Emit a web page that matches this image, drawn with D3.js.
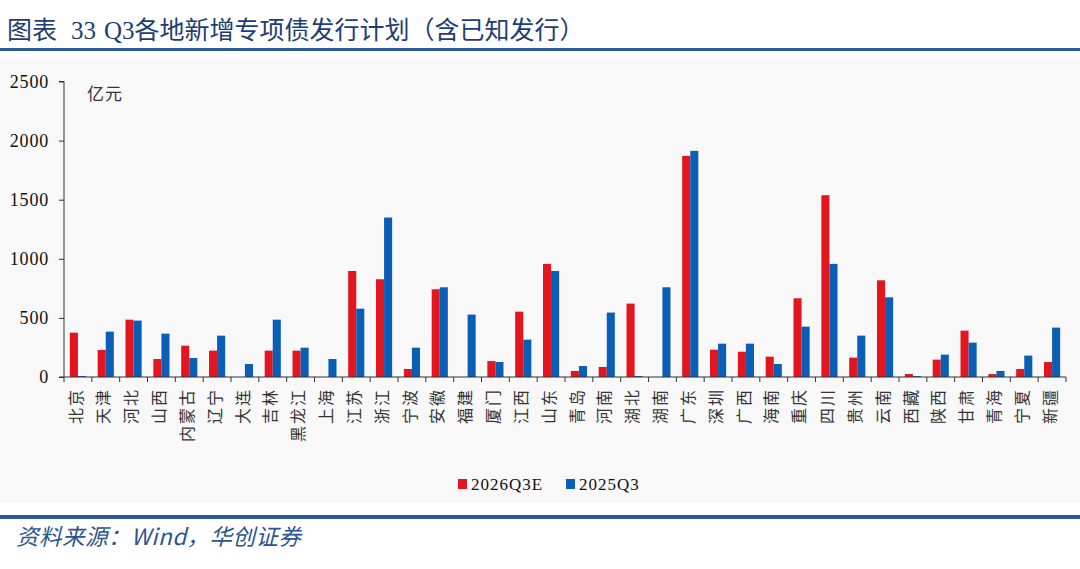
<!DOCTYPE html>
<html>
<head>
<meta charset="utf-8">
<style>
  body { margin: 0; background: #fff; }
  svg { display: block; }
</style>
</head>
<body>
<div id="chart"></div>
<script src="https://d3js.org/d3.v7.min.js"></script>
<script>
// 各地区
const regions = ['北京', '天津', '河北', '山西', '内蒙古', '辽宁', '大连', '吉林', '黑龙江', '上海',
  '江苏', '浙江', '宁波', '安徽', '福建', '厦门', '江西', '山东', '青岛', '河南', '湖北', '湖南',
  '广东', '深圳', '广西', '海南', '重庆', '四川', '贵州', '云南', '西藏', '陕西', '甘肃', '青海',
  '宁夏', '新疆'];

// 亿元
const q3e2026 = [375, 229, 485, 152, 265, 223, 0, 223, 223, 0,
  897, 827, 68, 742, 0, 135, 553, 957, 51, 85, 621, 0,
  1871, 231, 214, 172, 666, 1538, 164, 818, 25, 147, 392, 25,
  68, 127];
const q32025 = [8, 384, 477, 367, 161, 350, 110, 485, 248, 152,
  578, 1349, 248, 759, 528, 127, 316, 897, 93, 545, 8, 759,
  1913, 282, 282, 110, 426, 957, 350, 674, 8, 189, 291, 51,
  181, 418];

const seriesNames = ['2026Q3E', '2025Q3'];
const seriesColors = ['#e3161f', '#0a5eb6'];
const yTicks = [0, 500, 1000, 1500, 2000, 2500];

const W = 1080, H = 569;
const svg = d3.select('#chart').append('svg')
  .attr('width', W).attr('height', H);

// title block
const title = svg.append('text')
  .attr('x', 7).attr('y', 39)
  .attr('font-family', '"Liberation Serif", "Noto Sans CJK SC", serif')
  .attr('font-size', 25)
  .attr('fill', '#1d3d74');
title.append('tspan').text('图表');
title.append('tspan').attr('dx', 14).text('33');
title.append('tspan').attr('dx', 8).text('Q3各地新增专项债发行计划（含已知发行）');
svg.append('rect').attr('x', 0).attr('y', 48).attr('width', W).attr('height', 3).attr('fill', '#2c5a96');

// chart background
svg.append('rect').attr('x', 0).attr('y', 60).attr('width', W).attr('height', 443).attr('fill', '#f8f8f8');

const plotL = 64, plotR = 1066, plotT = 81.5, plotB = 377;

const x0 = d3.scaleBand().domain(regions).range([plotL, plotR]);
const bw = x0.bandwidth();
const x1 = d3.scaleBand().domain(seriesNames).range([bw * 0.21, bw * 0.79]);
const y = d3.scaleLinear().domain([0, 2500]).range([plotB, plotT]);

// bars
const rows = regions.map((r, i) => ({ region: r, vals: [q3e2026[i], q32025[i]] }));
const g = svg.append('g');
const groups = g.selectAll('g.grp').data(rows).enter().append('g')
  .attr('transform', d => `translate(${x0(d.region)},0)`);
groups.selectAll('rect').data(d => d.vals.map((v, k) => ({ v, k }))).enter().append('rect')
  .attr('x', d => x1(seriesNames[d.k]))
  .attr('width', x1.bandwidth())
  .attr('y', d => y(d.v))
  .attr('height', d => plotB - y(d.v))
  .attr('fill', d => seriesColors[d.k]);

// y axis
const yAxis = d3.axisLeft(y).tickValues(yTicks).tickFormat(d3.format('d')).tickSize(5).tickPadding(10);
const ya = svg.append('g').attr('transform', `translate(${plotL},0)`).call(yAxis);
ya.select('.domain').attr('stroke', '#333').attr('d', `M-5,${plotT}H0V${plotB}H-5`);
ya.selectAll('.tick line').attr('stroke', '#333');
ya.selectAll('.tick text')
  .attr('font-family', '"Liberation Serif", serif')
  .attr('font-size', 18)
  .attr('letter-spacing', 0.8)
  .attr('fill', '#111');

// x axis line and boundary ticks
svg.append('line').attr('x1', plotL).attr('x2', plotR).attr('y1', plotB).attr('y2', plotB)
  .attr('stroke', '#333').attr('stroke-width', 1);
const bounds = regions.map(r => x0(r)).concat([plotR]);
svg.selectAll('line.xt').data(bounds).enter().append('line')
  .attr('x1', d => d).attr('x2', d => d)
  .attr('y1', plotB).attr('y2', plotB + 5)
  .attr('stroke', '#333');

// x labels, vertical
svg.selectAll('text.xl').data(regions).enter().append('text')
  .attr('transform', d => `translate(${x0(d) + bw / 2 - 2},388) rotate(-90)`)
  .attr('text-anchor', 'end')
  .attr('dy', '0.35em')
  .attr('font-family', '"Noto Sans CJK SC", sans-serif')
  .attr('font-size', 16)
  .attr('letter-spacing', 2)
  .attr('fill', '#333')
  .text(d => d);

// unit
svg.append('text').attr('x', 87).attr('y', 100)
  .attr('font-family', '"Noto Sans CJK SC", sans-serif')
  .attr('font-size', 17).attr('letter-spacing', 1).attr('fill', '#333').text('亿元');

// legend
const legX = [458, 566];
seriesNames.forEach((s, i) => {
  svg.append('rect').attr('x', legX[i]).attr('y', 479).attr('width', 9).attr('height', 10)
    .attr('fill', seriesColors[i]);
  svg.append('text').attr('x', legX[i] + 13).attr('y', 490)
    .attr('font-family', '"Liberation Serif", serif')
    .attr('font-size', 17).attr('letter-spacing', 1).attr('fill', '#111').text(s);
});

// footer
svg.append('rect').attr('x', 0).attr('y', 515).attr('width', W).attr('height', 4).attr('fill', '#2c5a96');
svg.append('text').attr('x', 16).attr('y', 545)
  .attr('font-family', '"Noto Sans CJK SC", sans-serif')
  .attr('font-style', 'italic')
  .attr('font-size', 22.5).attr('letter-spacing', 0.5).attr('fill', '#2c5590')
  .text('资料来源：Wind，华创证券');
</script>
</body>
</html>
